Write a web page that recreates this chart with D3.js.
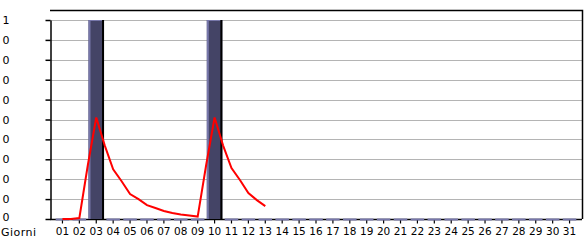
<!DOCTYPE html>
<html>
<head>
<meta charset="utf-8">
<script src="https://cdn.jsdelivr.net/npm/d3@7"></script>
<style>
  body { margin: 0; background: #fff; }
  svg { display: block; }
  text { font-family: "DejaVu Sans", Verdana, sans-serif; fill: #000; }
</style>
</head>
<body>
<div id="chart"></div>
<script>
// days of the month
var days = ["01","02","03","04","05","06","07","08","09","10","11","12","13","14","15","16",
            "17","18","19","20","21","22","23","24","25","26","27","28","29","30","31"];
// bar series (one value per day)
var barValues = [0,0,1,0,0,0,0,0,0,1,0,0,0,0,0,0,0,0,0,0,0,0,0,0,0,0,0,0,0,0,0];
// red line: positions in days (half day steps) and values
var lineDays = [1,1.5,2,2.5,3,3.5,4,4.5,5,5.5,6,6.5,7,7.5,8,8.5,9,9.5,10,10.5,11,11.5,12,12.5,13];
var lineValues = [0,0,0.005,0.27,0.51,0.37,0.25,0.19,0.125,0.1,0.07,0.055,0.04,0.03,0.023,0.018,0.012,
                  0.27,0.51,0.37,0.256,0.196,0.13,0.095,0.065];
// y ticks and their labels as shown
var yTicks = [0,0.1,0.2,0.3,0.4,0.5,0.6,0.7,0.8,0.9,1];
var yLabels = ["0","0","0","0","0","0","0","0","0","0","1"];

var svgWidth = 585, svgHeight = 240;
var margin = { top: 10, right: 3, bottom: 21, left: 50 };
var plotRight = svgWidth - margin.right;
var plotBottom = svgHeight - margin.bottom;

var svg = d3.select("#chart")
  .append("svg")
  .attr("width", svgWidth)
  .attr("height", svgHeight);

var x = d3.scaleBand()
  .domain(days)
  .range([54, 578])
  .paddingInner(0.08)
  .paddingOuter(0.04);

var xLine = d3.scaleLinear()
  .domain([1, days.length])
  .range([x(days[0]) + x.bandwidth() / 2, x(days[days.length - 1]) + x.bandwidth() / 2]);

var y = d3.scaleLinear()
  .domain([0, 1])
  .range([plotBottom, 20]);

// gridlines
svg.append("g")
  .selectAll("line")
  .data(yTicks.slice(1))
  .enter()
  .append("line")
  .attr("x1", margin.left)
  .attr("x2", plotRight)
  .attr("y1", d => Math.round(y(d)) + 0.5)
  .attr("y2", d => Math.round(y(d)) + 0.5)
  .attr("stroke", "#b4b4b4")
  .attr("stroke-width", 1);

// frame (top and right)
svg.append("path")
  .attr("d", `M${margin.left},${margin.top + 0.5}H${plotRight + 0.5}V${plotBottom}`)
  .attr("fill", "none")
  .attr("stroke", "#000")
  .attr("stroke-width", 1.5);

// y axis
var leftAxis = d3.axisLeft(y)
  .tickValues(yTicks)
  .tickSize(5)
  .tickSizeOuter(0)
  .tickFormat((d, i) => yLabels[i]);

var yAxisG = svg.append("g")
  .attr("transform", `translate(${margin.left + 0.5},0)`)
  .call(leftAxis);
yAxisG.select(".domain").attr("stroke", "#000").attr("stroke-width", 1.5);
yAxisG.selectAll(".tick line").attr("stroke", "#000").attr("stroke-width", 1.5);
yAxisG.selectAll(".tick text")
  .attr("x", 2 - margin.left)
  .attr("text-anchor", "start")
  .style("font-family", "'DejaVu Sans', Verdana, sans-serif")
  .style("font-size", "11px");
// the bottom label sits a little higher, just above "Giorni"
yAxisG.selectAll(".tick text").filter(d => d === 0).attr("y", -2);

// x axis
var bottomAxis = d3.axisBottom(x)
  .tickSize(4)
  .tickPadding(4)
  .tickSizeOuter(0);

var xAxisG = svg.append("g")
  .attr("transform", `translate(0,${plotBottom + 0.5})`)
  .call(bottomAxis);
xAxisG.select(".domain")
  .attr("d", `M${margin.left},0H${plotRight}`)
  .attr("stroke", "#000").attr("stroke-width", 1.5);
xAxisG.selectAll(".tick line").attr("stroke", "#000").attr("stroke-width", 1.2);
xAxisG.selectAll(".tick text")
  .style("font-family", "'DejaVu Sans', Verdana, sans-serif")
  .style("font-size", "10.5px");

svg.append("text")
  .attr("x", 1)
  .attr("y", 236)
  .attr("textLength", 35)
  .style("font-size", "11px")
  .text("Giorni");

// bars with 3d-ish edges, zero days drawn as a flat dash on the axis
var bars = svg.append("g")
  .selectAll("g")
  .data(barValues)
  .enter()
  .append("g");

bars.each(function(d, i) {
  var g = d3.select(this);
  var bx = x(days[i]), bw = x.bandwidth();
  if (d > 0) {
    var top = y(d), h = plotBottom - top;
    g.append("rect").attr("x", bx).attr("y", top).attr("width", bw).attr("height", h).attr("fill", "#444466");
    g.append("rect").attr("x", bx).attr("y", top).attr("width", 2).attr("height", h).attr("fill", "#7777aa");
    g.append("rect").attr("x", bx).attr("y", top).attr("width", bw).attr("height", 1).attr("fill", "#7777aa");
    g.append("rect").attr("x", bx + bw - 2).attr("y", top).attr("width", 2).attr("height", h).attr("fill", "#000");
  } else {
    g.append("rect").attr("x", bx + 1).attr("y", plotBottom - 0.5).attr("width", bw - 2).attr("height", 2).attr("fill", "#7777aa");
  }
});

// red line
var line = d3.line()
  .x((d, i) => xLine(lineDays[i]))
  .y(d => y(d));

svg.append("path")
  .datum(lineValues)
  .attr("d", line)
  .attr("fill", "none")
  .attr("stroke", "#ff0000")
  .attr("stroke-width", 2);
</script>
</body>
</html>
